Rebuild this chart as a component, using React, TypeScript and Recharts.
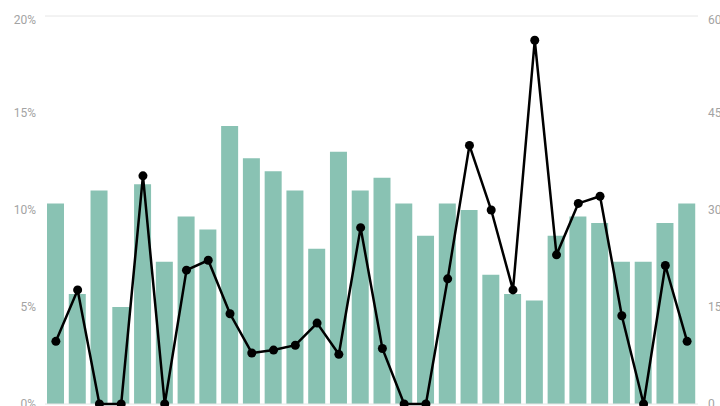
import { Bar, ComposedChart, Line, ReferenceLine, XAxis, YAxis } from "recharts";

// one entry per bar, left to right
const days = Array.from({ length: 30 }, (_, i) => `D${i + 1}`);
const counts = [
  31, 17, 33, 15, 34, 22, 29, 27, 43, 38, 36, 33, 24, 39, 33, 35, 31, 26, 31, 30,
  20, 17, 16, 26, 29, 28, 22, 22, 28, 31,
];
const rates = [
  3.23, 5.88, 0, 0, 11.76, 0, 6.9, 7.41, 4.65, 2.63, 2.78, 3.03, 4.17, 2.56, 9.09,
  2.86, 0, 0, 6.45, 13.33, 10, 5.88, 18.75, 7.69, 10.34, 10.71, 4.55, 0, 7.14, 3.23,
];
const rateTicks = [0, 5, 10, 15, 20];
const countTicks = [0, 15, 30, 45, 60];

const data = days.map((day, i) => ({ day, count: counts[i], rate: rates[i] }));

const TEAL = "#89c2b3";
const LABEL = "#a3a3a3";

function AxisTick(props: any) {
  const { x, y, payload, textAnchor, top, fmt } = props;
  // the top label sits a little below its line
  const shift = payload.value === top ? 4 : 0;
  return (
    <text
      x={x}
      y={y + shift}
      dy="0.355em"
      textAnchor={textAnchor}
      fill={LABEL}
      fontSize={12}
      fontFamily="Roboto, sans-serif"
    >
      {fmt(payload.value)}
    </text>
  );
}

export default function App() {
  return (
    <>
      <style>{`body { margin: 0; }`}</style>
      <ComposedChart
        width={720}
        height={406}
        data={data}
        margin={{ top: 16, right: 0, bottom: 2, left: 0 }}
      >
        <XAxis dataKey="day" hide />
        <YAxis
          yAxisId="rate"
          orientation="left"
          width={45}
          domain={[0, 20]}
          ticks={rateTicks}
          interval={0}
          axisLine={false}
          tickLine={false}
          tickSize={0}
          tickMargin={9}
          tick={<AxisTick top={20} fmt={(v: number) => `${v}%`} />}
        />
        <YAxis
          yAxisId="count"
          orientation="right"
          width={22}
          domain={[0, 60]}
          ticks={countTicks}
          interval={0}
          axisLine={false}
          tickLine={false}
          tickSize={0}
          tickMargin={10}
          tick={<AxisTick top={60} fmt={(v: number) => `${v}`} />}
        />
        <ReferenceLine yAxisId="rate" y={20} stroke="#e6e6e6" strokeWidth={1} />
        <ReferenceLine yAxisId="rate" y={0} stroke="#e6e6e6" strokeWidth={1} />
        <Bar
          yAxisId="count"
          dataKey="count"
          fill={TEAL}
          barSize={17}
          isAnimationActive={false}
        />
        <Line
          yAxisId="rate"
          type="linear"
          dataKey="rate"
          stroke="#000"
          strokeWidth={2.5}
          dot={{ r: 4.5, fill: "#000", stroke: "#000", strokeWidth: 0 }}
          activeDot={false}
          isAnimationActive={false}
        />
      </ComposedChart>
    </>
  );
}
